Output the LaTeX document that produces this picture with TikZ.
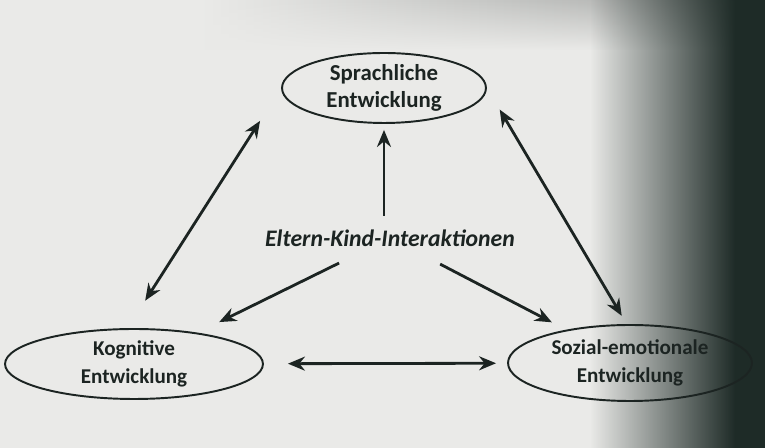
\documentclass[tikz,border=0pt]{standalone}
\usepackage{fontspec}
\setmainfont{Carlito}
\usepackage{tikz}
\usetikzlibrary{arrows.meta,positioning,shapes.geometric,fadings}
\definecolor{paper}{HTML}{EAEAE8}
\definecolor{ink}{HTML}{1C2422}
\definecolor{scandark}{HTML}{1E2B27}
\definecolor{scangray}{HTML}{A4A6A4}
\tikzfading[name=darkedge, left color=transparent!100, right color=transparent!0]
\tikzfading[name=darktop, top color=transparent!0, bottom color=transparent!100]
\tikzset{
  devbox/.style={ellipse,draw=ink,line width=1.1pt,align=center,inner sep=0pt,
                 font=\fontsize{12}{16}\selectfont\bfseries,text=ink},
  hubtext/.style={inner sep=2pt,font=\fontsize{13.5}{15}\selectfont\bfseries\itshape,text=ink},
  flowarr/.style={-{Stealth[length=3.4mm,width=2.8mm]},line width=1.6pt,color=ink},
  twowayarr/.style={{Stealth[length=3.4mm,width=2.8mm]}-{Stealth[length=3.4mm,width=2.8mm]},
                    line width=1.6pt,color=ink}
}

\begin{document}
\begin{tikzpicture}[x=0.02cm,y=-0.02cm]
  \useasboundingbox (0,0) rectangle (765,448);
  % scanned page: light paper, dark right edge
  \fill[paper] (0,0) rectangle (765,448);
  \shade[left color=paper,right color=scangray,path fading=darktop] (200,0) rectangle (765,50);
  \fill[scandark,path fading=darkedge] (590,0) rectangle (735,448);
  \fill[scandark] (735,0) rectangle (765,448);

  \node[devbox,minimum width=4.08cm,minimum height=1.4cm,
        font=\fontsize{13}{15.5}\selectfont\bfseries] (sprach) at (384,88)
    {Sprachliche\\Entwicklung};
  \node[devbox,minimum width=5.16cm,minimum height=1.4cm] (kog) at (134,364)
    {Kognitive\\Entwicklung};
  \node[devbox,minimum width=4.88cm,minimum height=1.52cm] (soz) at (630,363)
    {Sozial-emotionale\\Entwicklung};
  \node[hubtext] (eki) at (390,238) {Eltern-Kind-Interaktionen};

  \draw[flowarr,shorten <=0.2cm,shorten >=0.12cm] (eki.north -| sprach) -- (sprach.south);
  \draw[flowarr,shorten <=0.58cm,shorten >=0.48cm] (eki) -- (kog);
  \draw[flowarr,shorten <=0.6cm,shorten >=0.32cm] (eki) -- (soz);

  \draw[twowayarr,shorten <=0.48cm,shorten >=0.22cm] (kog) -- (soz);
  \draw[twowayarr,shorten <=0.78cm,shorten >=0.65cm] (sprach.west) -- (kog.100);
  \draw[twowayarr,shorten <=0.5cm,shorten >=0.19cm] (sprach.east) -- (soz.95);
\end{tikzpicture}
\end{document}
